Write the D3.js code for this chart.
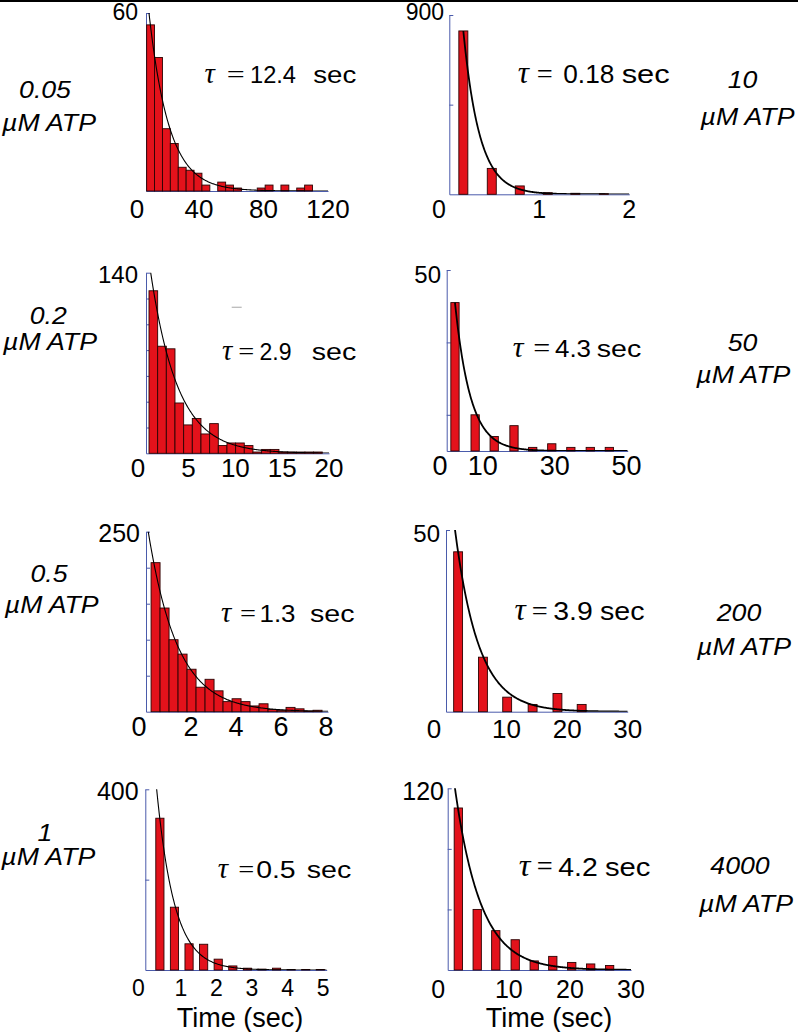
<!DOCTYPE html>
<html><head><meta charset="utf-8">
<script src="https://cdn.jsdelivr.net/npm/d3@7"></script>
<style>
html,body{margin:0;padding:0;background:#fff;}
svg{display:block;}
</style></head><body>
<svg id="chart" width="798" height="1032"></svg>
<script>
// ---------------- data ----------------
const concentrations = ["0.05", "0.2", "0.5", "1", "10", "50", "200", "4000"];
const concUnit = "µM ATP";
const tauLabels = ["12.4", "2.9", "1.3", "0.5", "0.18", "4.3", "3.9", "4.2"];
const tauValues = [12.4, 2.9, 1.3, 0.5, 0.18, 4.3, 3.9, 4.2];
const fitAmplitudes = [123.5, 195, 270, 758, 1950, 70, 73.3, 159.3];
const yMaxLabels = [60, 140, 250, 400, 900, 50, 50, 120];
const yMinorTicks = [[10, 20, 30, 40, 50], [20, 40, 60, 80, 100, 120], [50, 100, 150, 200], [200], [450], [10, 30], [], [40, 80]];
const xTickLabels = [[40, 80, 120], [5, 10, 15, 20], [2, 4, 6, 8], [1, 2, 3, 4, 5], [1, 2], [10, 30, 50], [10, 20, 30], [10, 20, 30]];
const xTitle = "Time (sec)";

// dwell-time histograms (counts per bin)
const counts005 = [56, 45, 21, 16, 8, 7, 6, 2, 0, 3, 2, 1, 0, 0, 1, 2, 0, 2, 0, 1, 2];
const counts02 = [126, 83, 81, 39, 22, 27, 15, 23, 6, 8, 8, 6, 1, 3, 3, 1, 1, 1, 1, 1];
const counts05 = [207, 144, 100, 80, 59, 34, 45, 29, 14, 18, 14, 8, 11, 3, 2, 6, 4, 1, 2];
const counts1 = [336, 139, 58, 57, 24, 9, 4, 2, 4, 1, 1, 1];
const counts10 = [820, 130, 42, 8, 5, 3];
const counts50 = [41, 10, 4, 7, 1, 2, 1, 1, 1];
const counts200 = [44, 15, 4, 2, 5, 2];
const counts4000 = [107, 40, 26, 20, 6, 9, 5, 4, 3];

// bin geometry (seconds)
const binStart005 = 7.5, binWidth005 = 4.9;
const binStart02 = 0.78, binWidth02 = 0.925;
const binStart05 = 0.225, binWidth05 = 0.4;
const times1 = [0.41, 0.82, 1.23, 1.64, 2.05, 2.46, 2.87, 3.28, 3.69, 4.10, 4.51, 4.92];
const times10 = [0.156, 0.472, 0.783, 1.094, 1.40, 1.717];
const times50 = [2.3, 7.9, 13.2, 18.7, 23.9, 29.2, 34.5, 39.9, 45.2];
const times200 = [2.0, 6.1, 10.1, 14.3, 18.4, 22.4];
const times4000 = [1.74, 4.83, 7.87, 11.05, 14.16, 17.2, 20.3, 23.4, 26.5];
const barW1 = 0.23, barW10 = 0.1, barW50 = 2.3, barW200 = 1.47, barW4000 = 1.36;

// ---------------- layout ----------------
const binCenters = (start, w, n) => d3.range(n).map(i => start + w * (i + 0.5));

const panels = [
  { counts: counts005, times: binCenters(binStart005, binWidth005, counts005.length), barW: binWidth005,
    box: {l: 146, r: 328, t: 13, b: 191}, xDomain: [7.1, 120], fitStart: null, curveW: 1.1,
    tick: {fs: 26, base: 218.3, zeroX: 137}, yl: {end: 138, base: 20, fs: 23},
    tau: {x: 204.5, eqX: 226.7, eqW: 18, numX: 250, numW: 46, secX: 313.3, secW: 43, base: 83.3, fs: 23},
    conc: {cx1: 45, b1: 98.3, cx2: 49, b2: 131} },
  { counts: counts02, times: binCenters(binStart02, binWidth02, counts02.length), barW: binWidth02,
    box: {l: 146, r: 329, t: 272.7, b: 453.3}, xDomain: [0.46, 20], fitStart: null, curveW: 1.1,
    tick: {fs: 26, base: 477, zeroX: 138}, yl: {end: 138, base: 283.3, fs: 24},
    tau: {x: 222, eqX: 238.3, eqW: 16, numX: 259.5, numW: 32, secX: 311.7, secW: 44.5, base: 360, fs: 23},
    conc: {cx1: 48.3, b1: 324, cx2: 50, b2: 350} },
  { counts: counts05, times: binCenters(binStart05, binWidth05, counts05.length), barW: binWidth05,
    box: {l: 146, r: 328, t: 531.7, b: 711.7}, xDomain: [0, 8.09], fitStart: null, curveW: 1.1,
    tick: {fs: 27, base: 736, zeroX: 139}, yl: {end: 140, base: 541.7, fs: 25},
    tau: {x: 221, eqX: 240, eqW: 16, numX: 259.5, numW: 36, secX: 310, secW: 44.5, base: 621.7, fs: 23},
    conc: {cx1: 49, b1: 581.7, cx2: 51.7, b2: 613.3} },
  { counts: counts1, times: times1, barW: barW1,
    box: {l: 145.3, r: 326.7, t: 789.3, b: 970}, xDomain: [0, 5.1], fitStart: null, curveW: 1.1,
    tick: {fs: 23, base: 996, zeroX: 138.3}, yl: {end: 138.7, base: 800, fs: 25},
    tau: {x: 217.7, eqX: 238.3, eqW: 16, numX: 256.2, numW: 39.5, secX: 306.7, secW: 44.5, base: 877.7, fs: 23},
    conc: {cx1: 45, b1: 840.7, cx2: 48.3, b2: 865}, title: {cx: 240, base: 1027} },
  { counts: counts10, times: times10, barW: barW10,
    box: {l: 449.3, r: 629.3, t: 15, b: 194.3}, xDomain: [0, 2], fitStart: 0.156, curveW: 1.8,
    tick: {fs: 25, base: 218.3, zeroX: 439}, yl: {end: 444, base: 20, fs: 23},
    tau: {x: 517.7, eqX: 536.7, eqW: 16, numX: 563.3, numW: 51, secX: 621.7, secW: 48, base: 82.7, fs: 25},
    conc: {cx1: 742.5, b1: 88.3, cx2: 747.5, b2: 125} },
  { counts: counts50, times: times50, barW: barW50,
    box: {l: 446.7, r: 627.7, t: 270, b: 451}, xDomain: [0, 50.3], fitStart: 2.3, curveW: 1.8,
    tick: {fs: 27, base: 475, zeroX: 440}, yl: {end: 441, base: 282.7, fs: 24},
    tau: {x: 512.7, eqX: 533.3, eqW: 17, numX: 555, numW: 36, secX: 596.7, secW: 44.5, base: 357.3, fs: 24},
    conc: {cx1: 742.5, b1: 350.7, cx2: 743.3, b2: 383.3} },
  { counts: counts200, times: times200, barW: barW200,
    box: {l: 446, r: 627.7, t: 530, b: 711.7}, xDomain: [0, 30], fitStart: null, curveW: 1.8,
    tick: {fs: 26, base: 738, zeroX: 434}, yl: {end: 440, base: 541.7, fs: 24},
    tau: {x: 514.5, eqX: 531.7, eqW: 16, numX: 553.3, numW: 39.5, secX: 600, secW: 44.5, base: 620, fs: 25},
    conc: {cx1: 739, b1: 620.7, cx2: 744, b2: 655} },
  { counts: counts4000, times: times4000, barW: barW4000,
    box: {l: 447.7, r: 631, t: 788.3, b: 970}, xDomain: [0, 30], fitStart: null, curveW: 1.8,
    tick: {fs: 25, base: 998, zeroX: 438.3}, yl: {end: 444, base: 800, fs: 25},
    tau: {x: 518.7, eqX: 536.7, eqW: 16, numX: 558.3, numW: 39.5, secX: 605, secW: 45.5, base: 876, fs: 26},
    conc: {cx1: 740, b1: 874, cx2: 746, b2: 911.7}, title: {cx: 549, base: 1027} }
];

// ---------------- drawing ----------------
const SANS = "'Liberation Sans', Arial, sans-serif";
const SERIF = "'Liberation Serif', 'Times New Roman', serif";
const AXIS_COLOR = "#4a5bab";
const BAR_FILL = "#e3121b";
const BAR_STROKE = "#2b0303";

const svg = d3.select("#chart");
svg.append("rect").attr("x", 0).attr("y", 0).attr("width", 798).attr("height", 2).attr("fill", "#000");

const defs = svg.append("defs");

panels.forEach((p, i) => {
  const g = svg.append("g");
  const x = d3.scaleLinear().domain(p.xDomain).range([p.box.l, p.box.r]);
  const y = d3.scaleLinear().domain([0, yMaxLabels[i]]).range([p.box.b, p.box.t]);

  // axes
  const ya = g.append("g").attr("transform", `translate(${p.box.l},0)`)
    .call(d3.axisRight(y).tickValues(yMinorTicks[i].concat([yMaxLabels[i]])).tickSize(4).tickSizeOuter(0).tickFormat(""));
  const xa = g.append("g").attr("transform", `translate(0,${p.box.b})`)
    .call(d3.axisBottom(x).tickValues([]).tickSizeOuter(0));
  [ya, xa].forEach(a => {
    a.selectAll("path,line").attr("stroke", AXIS_COLOR).attr("stroke-width", 1);
  });

  // bars
  g.append("g").selectAll("rect").data(p.counts.map((c, k) => ({c, t: p.times[k]})))
    .join("rect")
    .attr("x", d => x(d.t - p.barW / 2))
    .attr("width", d => x(d.t + p.barW / 2) - x(d.t - p.barW / 2))
    .attr("y", d => y(d.c))
    .attr("height", d => y(0) - y(d.c))
    .attr("fill", BAR_FILL)
    .attr("stroke", BAR_STROKE)
    .attr("stroke-width", 0.9)
    .style("display", d => d.c > 0 ? null : "none");

  // exponential fit
  const clipId = "clip" + i;
  defs.append("clipPath").attr("id", clipId).append("rect")
    .attr("x", p.box.l).attr("y", p.box.t).attr("width", p.box.r - p.box.l).attr("height", p.box.b - p.box.t);
  const t0 = p.fitStart == null ? p.xDomain[0] : p.fitStart;
  const ts = d3.range(0, 301).map(k => t0 + (p.xDomain[1] - t0) * k / 300);
  const line = d3.line().x(t => x(t)).y(t => y(fitAmplitudes[i] * Math.exp(-t / tauValues[i])));
  g.append("path").attr("d", line(ts)).attr("fill", "none").attr("stroke", "#000")
    .attr("stroke-width", p.curveW).attr("clip-path", `url(#${clipId})`);

  // tick labels
  g.append("g").selectAll("text").data(xTickLabels[i]).join("text")
    .attr("x", d => x(d)).attr("y", p.tick.base)
    .attr("text-anchor", "middle").attr("font-family", SANS).attr("font-size", p.tick.fs)
    .attr("fill", "#000").text(d => d);
  g.append("text").attr("x", p.tick.zeroX).attr("y", p.tick.base)
    .attr("text-anchor", "middle").attr("font-family", SANS).attr("font-size", p.tick.fs)
    .text("0");
  g.append("text").attr("x", p.yl.end).attr("y", p.yl.base)
    .attr("text-anchor", "end").attr("font-family", SANS).attr("font-size", p.yl.fs)
    .text(yMaxLabels[i]);

  // tau annotation
  const T = p.tau;
  g.append("text").attr("x", T.x).attr("y", T.base).attr("font-family", SERIF)
    .attr("font-style", "italic").attr("font-size", T.fs * 1.25).text("τ");
  g.append("text").attr("x", T.eqX).attr("y", T.base).attr("font-family", SERIF)
    .attr("font-size", T.fs * 1.1).attr("textLength", T.eqW).attr("lengthAdjust", "spacingAndGlyphs").text("=");
  g.append("text").attr("x", T.numX).attr("y", T.base).attr("font-family", SANS)
    .attr("font-size", T.fs).attr("textLength", T.numW).attr("lengthAdjust", "spacingAndGlyphs").text(tauLabels[i]);
  g.append("text").attr("x", T.secX).attr("y", T.base).attr("font-family", SANS)
    .attr("font-size", T.fs).attr("textLength", T.secW).attr("lengthAdjust", "spacingAndGlyphs").text("sec");

  // concentration label
  const C = p.conc;
  [[C.cx1, C.b1, concentrations[i]], [C.cx2, C.b2, concUnit]].forEach(([cx, b, s]) => {
    g.append("text").attr("transform", `translate(${cx},${b}) scale(1.16,1)`)
      .attr("text-anchor", "middle").attr("font-family", SANS).attr("font-style", "italic")
      .attr("font-size", 23).text(s);
  });

  if (p.title) {
    g.append("text").attr("x", p.title.cx).attr("y", p.title.base)
      .attr("text-anchor", "middle").attr("font-family", SANS).attr("font-size", 27).text(xTitle);
  }
});

// small grey mark present in the original figure (0.2 µM panel)
svg.append("line").attr("x1", 231.7).attr("x2", 241.7).attr("y1", 307.3).attr("y2", 307.3)
  .attr("stroke", "#bbbbbb").attr("stroke-width", 1.3);
</script>
</body></html>
